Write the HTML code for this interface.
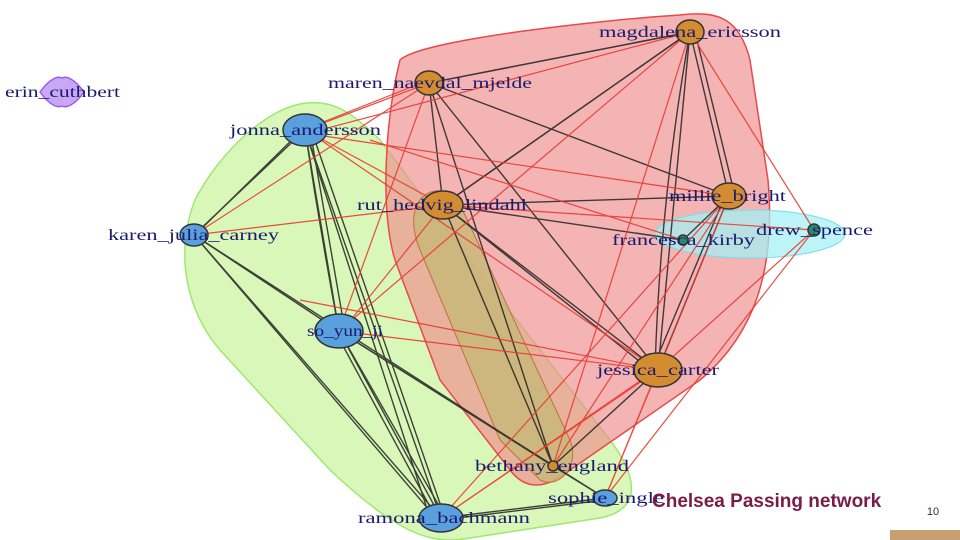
<!DOCTYPE html>
<html><head><meta charset="utf-8"><style>
html,body{margin:0;padding:0;background:#fff;}
svg{display:block;}
text{font-family:"Liberation Serif",serif;font-size:16px;fill:#1a1a6e;}
</style></head><body>
<svg width="960" height="540" viewBox="0 0 960 540" xmlns="http://www.w3.org/2000/svg">
<!-- hulls -->
<path d="M300,104 C330,98 350,110 380,140 L470,260 L610,440 C640,480 640,510 600,518 L470,538 C430,545 400,535 330,470 L220,350 C185,310 175,250 195,200 C215,160 260,112 300,104 Z" fill="#d9f7b8" stroke="#9fe870" stroke-width="1.5"/>
<path d="M400,60 C420,40 600,20 680,15 C720,10 740,20 750,60 L768,180 C775,260 760,330 700,380 L570,470 C545,490 525,490 510,470 L440,380 L395,260 C380,210 385,120 400,60 Z" fill="#ee8c8c" fill-opacity="0.65" stroke="#e84a4a" stroke-width="1.5"/>
<path d="M425,195 C440,185 455,195 465,215 L570,440 C580,465 560,490 540,480 L500,440 L420,250 C410,225 412,205 425,195 Z" fill="#c8b878" fill-opacity="0.8" stroke="#c07040" stroke-width="1"/>
<ellipse cx="750" cy="234" rx="95" ry="24" fill="#a6f0f4" fill-opacity="0.75" stroke="#70e0ea" stroke-width="1"/>
<path d="M40,92 C50,78 58,76 62,78 C66,76 74,78 84,92 C74,106 66,108 62,106 C58,108 50,106 40,92 Z" fill="#c8a8f4" stroke="#9a5cf0" stroke-width="1.5"/>
<!-- black edges -->
<g stroke="#222" stroke-width="1.4" fill="none" opacity="0.85">
<path d="M305,130 L194,235"/><path d="M300,132 L198,232"/>
<path d="M305,130 L339,331"/><path d="M310,130 L345,331"/><path d="M305,130 Q320,230 339,331"/>
<path d="M305,130 L441,518"/><path d="M312,132 L445,518"/>
<path d="M194,235 L339,331"/><path d="M194,235 L441,518"/><path d="M194,235 L436,518"/><path d="M194,235 L553,466"/>
<path d="M339,331 L441,518"/><path d="M335,331 L436,518"/><path d="M339,331 L605,498"/><path d="M339,331 L553,466"/><path d="M339,331 L446,518"/>
<path d="M305,130 L430,518"/>
<path d="M441,518 L605,498"/><path d="M441,520 L605,500"/>
<path d="M553,466 L605,498"/><path d="M553,466 L658,370"/>
<path d="M429,83 L690,32"/><path d="M429,83 L729,196"/><path d="M429,83 L658,370"/><path d="M429,83 L553,466"/>
<path d="M443,205 L690,32"/><path d="M443,205 L729,196"/><path d="M443,205 L658,370"/><path d="M443,205 L653,372"/><path d="M443,205 L553,466"/><path d="M443,205 L683,240"/>
<path d="M690,32 L729,196"/><path d="M695,32 L735,196"/><path d="M690,32 L658,370"/><path d="M690,32 Q660,200 655,370"/><path d="M690,32 L443,205"/>
<path d="M729,196 L658,370"/><path d="M725,196 L652,370"/><path d="M729,196 L683,240"/>
<path d="M429,83 L443,205"/><path d="M429,83 L690,32"/>
</g>
<!-- red edges -->
<g stroke="#e83a30" stroke-width="1.2" fill="none" opacity="0.9">
<path d="M305,130 L429,83"/><path d="M308,128 L429,80"/><path d="M305,134 L690,32"/><path d="M310,134 L729,196"/><path d="M305,130 L443,205"/><path d="M309,132 L658,370"/>
<path d="M194,235 L443,205"/><path d="M194,235 L429,83"/>
<path d="M339,331 L429,83"/><path d="M342,331 L443,205"/><path d="M339,331 L658,370"/><path d="M339,331 L690,32"/>
<path d="M300,300 L658,370"/>
<path d="M441,518 L658,370"/><path d="M441,518 L653,372"/><path d="M441,518 L729,196"/>
<path d="M605,498 L658,370"/><path d="M605,498 L729,196"/><path d="M605,498 L814,230"/>
<path d="M553,466 L729,196"/><path d="M553,466 L690,32"/>
<path d="M690,32 L814,230"/><path d="M658,370 L814,230"/><path d="M443,205 L814,230"/><path d="M370,140 L683,240"/>
</g>
<!-- nodes -->
<g stroke="#333" stroke-width="1.5">
<ellipse cx="305" cy="130" rx="22" ry="16" fill="#5aa0de"/>
<ellipse cx="194" cy="235" rx="14" ry="11" fill="#5aa0de"/>
<ellipse cx="339" cy="331" rx="24" ry="17" fill="#5aa0de"/>
<ellipse cx="441" cy="518" rx="22" ry="14" fill="#5aa0de"/>
<ellipse cx="605" cy="498" rx="12" ry="8" fill="#5aa0de"/>
<ellipse cx="429" cy="83" rx="14" ry="12" fill="#d48c30"/>
<ellipse cx="690" cy="32" rx="14" ry="12" fill="#d48c30"/>
<ellipse cx="443" cy="205" rx="20" ry="14" fill="#d48c30"/>
<ellipse cx="729" cy="196" rx="17" ry="13" fill="#d48c30"/>
<ellipse cx="658" cy="370" rx="24" ry="17" fill="#d48c30"/>
<circle cx="553" cy="466" r="5" fill="#d48c30"/>
<circle cx="683" cy="240" r="5" fill="#2a8a70"/>
<circle cx="814" cy="230" r="6" fill="#2a8a70"/>
</g>
<!-- labels -->
<g lengthAdjust="spacingAndGlyphs">
<text x="5" y="97" textLength="115" lengthAdjust="spacingAndGlyphs">erin_cuthbert</text>
<text x="230" y="135" textLength="151" lengthAdjust="spacingAndGlyphs">jonna_andersson</text>
<text x="328" y="88" textLength="204" lengthAdjust="spacingAndGlyphs">maren_naevdal_mjelde</text>
<text x="599" y="37" textLength="182" lengthAdjust="spacingAndGlyphs">magdalena_ericsson</text>
<text x="357" y="210" textLength="170" lengthAdjust="spacingAndGlyphs">rut_hedvig_lindahl</text>
<text x="669" y="201" textLength="117" lengthAdjust="spacingAndGlyphs">millie_bright</text>
<text x="612" y="245" textLength="143" lengthAdjust="spacingAndGlyphs">francesca_kirby</text>
<text x="756" y="235" textLength="117" lengthAdjust="spacingAndGlyphs">drew_spence</text>
<text x="108" y="240" textLength="171" lengthAdjust="spacingAndGlyphs">karen_julia_carney</text>
<text x="307" y="336" textLength="76" lengthAdjust="spacingAndGlyphs">so_yun_ji</text>
<text x="597" y="375" textLength="122" lengthAdjust="spacingAndGlyphs">jessica_carter</text>
<text x="475" y="471" textLength="154" lengthAdjust="spacingAndGlyphs">bethany_england</text>
<text x="548" y="503" textLength="116" lengthAdjust="spacingAndGlyphs">sophie_ingle</text>
<text x="358" y="523" textLength="172" lengthAdjust="spacingAndGlyphs">ramona_bachmann</text>
</g>
<text x="652" y="507" style="font-family:'Liberation Sans',sans-serif;font-weight:bold;font-size:19px;fill:#7a1c48">Chelsea Passing network</text>
<text x="933" y="515" text-anchor="middle" style="font-family:'Liberation Sans',sans-serif;font-size:11px;fill:#333">10</text>
<rect x="890" y="530" width="70" height="10" fill="#c8a070"/>
</svg>
</body></html>
